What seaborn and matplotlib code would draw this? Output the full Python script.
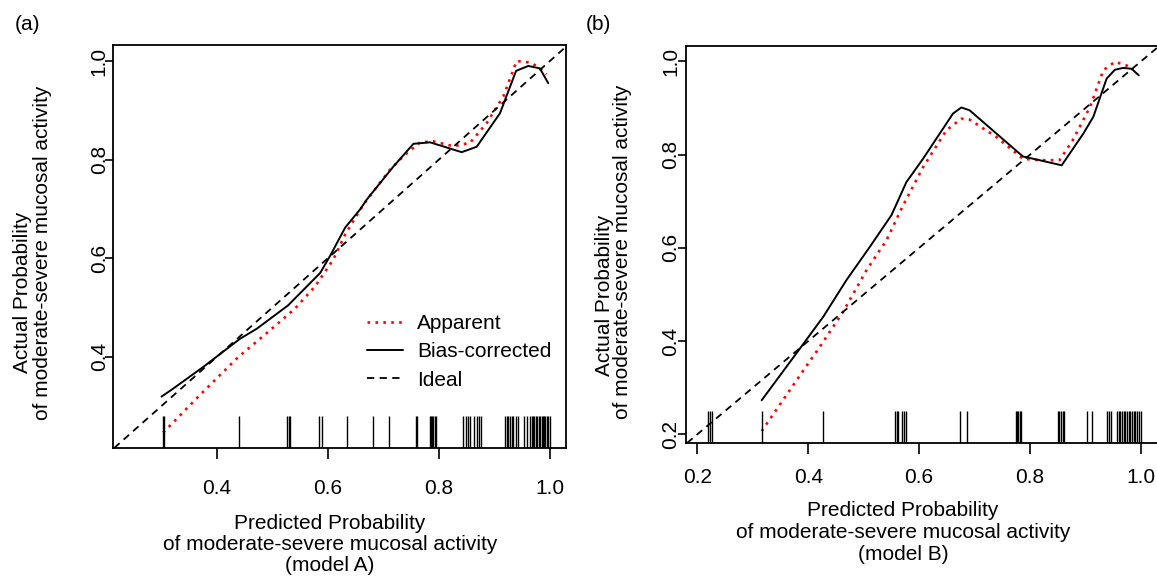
import matplotlib
matplotlib.use("Agg")
import matplotlib.pyplot as plt
import seaborn as sns

# %% data (model A = left, model B = right)
app_a_x = [0.303, 0.369, 0.438, 0.495, 0.540, 0.577, 0.610, 0.631, 0.664, 0.712, 0.739,
           0.766, 0.790, 0.826, 0.856, 0.886, 0.916, 0.940, 0.964, 0.981, 0.994]
app_a_y = [0.246, 0.322, 0.399, 0.453, 0.497, 0.543, 0.598, 0.648, 0.709, 0.780, 0.810,
           0.835, 0.837, 0.827, 0.834, 0.874, 0.928, 1.000, 0.997, 0.987, 0.973]
bias_a_x = [0.300, 0.317, 0.375, 0.441, 0.472, 0.528, 0.586, 0.604, 0.631, 0.658, 0.670,
            0.718, 0.754, 0.784, 0.841, 0.868, 0.910, 0.939, 0.961, 0.982, 0.997]
bias_a_y = [0.319, 0.332, 0.379, 0.436, 0.457, 0.504, 0.570, 0.605, 0.662, 0.699, 0.719,
            0.786, 0.832, 0.835, 0.815, 0.826, 0.894, 0.980, 0.990, 0.985, 0.955]
rug_a = [0.302, 0.304, 0.440, 0.527, 0.530, 0.532, 0.584, 0.590, 0.634, 0.681, 0.710,
         0.759, 0.761, 0.783, 0.786, 0.788, 0.790, 0.792, 0.795, 0.844, 0.848, 0.852,
         0.856, 0.864, 0.868, 0.872, 0.876, 0.919, 0.922, 0.925, 0.928, 0.931, 0.934,
         0.938, 0.942, 0.953, 0.958, 0.964, 0.967, 0.970, 0.972, 0.975, 0.977, 0.980,
         0.982, 0.985, 0.987, 0.990, 0.992, 0.995, 0.997, 1.000]

app_b_x = [0.316, 0.379, 0.421, 0.463, 0.505, 0.541, 0.571, 0.607, 0.649, 0.676, 0.691,
           0.739, 0.787, 0.817, 0.853, 0.877, 0.908, 0.932, 0.953, 0.974, 0.986]
app_b_y = [0.207, 0.316, 0.388, 0.463, 0.552, 0.616, 0.691, 0.773, 0.852, 0.877, 0.875,
           0.838, 0.791, 0.788, 0.788, 0.831, 0.902, 0.981, 0.999, 0.991, 0.982]
bias_b_x = [0.316, 0.385, 0.427, 0.469, 0.511, 0.550, 0.577, 0.607, 0.661, 0.676, 0.691,
            0.787, 0.817, 0.857, 0.896, 0.914, 0.938, 0.953, 0.968, 0.983, 0.996]
bias_b_y = [0.273, 0.384, 0.452, 0.531, 0.602, 0.670, 0.741, 0.791, 0.888, 0.901, 0.895,
            0.796, 0.788, 0.777, 0.845, 0.881, 0.963, 0.982, 0.986, 0.984, 0.970]
rug_b = [0.220, 0.223, 0.227, 0.316, 0.426, 0.557, 0.560, 0.562, 0.569, 0.573, 0.576,
         0.673, 0.687, 0.774, 0.776, 0.779, 0.781, 0.784, 0.850, 0.853, 0.856, 0.859,
         0.861, 0.902, 0.911, 0.939, 0.942, 0.945, 0.957, 0.960, 0.963, 0.966, 0.969,
         0.972, 0.975, 0.978, 0.981, 0.984, 0.987, 0.990, 0.993, 0.996, 1.000]

xticks_a = [0.4, 0.6, 0.8, 1.0]
yticks_a = [0.4, 0.6, 0.8, 1.0]
xticks_b = [0.2, 0.4, 0.6, 0.8, 1.0]
yticks_b = [0.2, 0.4, 0.6, 0.8, 1.0]

xlabel_a = "Predicted Probability\nof moderate-severe mucosal activity\n(model A)"
xlabel_b = "Predicted Probability\nof moderate-severe mucosal activity\n(model B)"
ylabel_1 = "Actual Probability"
ylabel_2 = "of moderate-severe mucosal activity"

# %%
sns.set_style("white")
plt.rcParams["font.family"] = ["Liberation Sans", "DejaVu Sans"]
plt.rcParams["font.size"] = 15
for k in ["text.color", "axes.labelcolor", "xtick.color", "ytick.color"]:
    plt.rcParams[k] = "black"

fig = plt.figure(figsize=(11.57, 5.77), dpi=100)
ax_a = fig.add_axes([0.0977, 0.2236, 0.3915, 0.6984])
ax_b = fig.add_axes([0.5929, 0.2322, 0.4080, 0.6880])


def draw_panel(ax, app_x, app_y, bias_x, bias_y, rug, legend):
    sns.lineplot(x=app_x, y=app_y, ax=ax, sort=False, estimator=None, color="red",
                 lw=1.9, linestyle=(0, (1, 2)), label="Apparent" if legend else None)
    sns.lineplot(x=bias_x, y=bias_y, ax=ax, sort=False, estimator=None, color="black",
                 lw=1.4, label="Bias-corrected" if legend else None)
    ax.axline((0, 0), slope=1, color="black", lw=1.3, linestyle=(0, (4, 3)),
              label="Ideal" if legend else None)
    sns.rugplot(x=rug, ax=ax, height=0.08, color="black", lw=1.5, expand_margins=False)
    for sp in ax.spines.values():
        sp.set_color("black")
        sp.set_linewidth(1.3)


draw_panel(ax_a, app_a_x, app_a_y, bias_a_x, bias_a_y, rug_a, True)
draw_panel(ax_b, app_b_x, app_b_y, bias_b_x, bias_b_y, rug_b, False)

ax_a.set_xlim(0.2126, 1.029)
ax_a.set_ylim(0.2147, 1.0325)
ax_b.set_xlim(0.1796, 1.0307)
ax_b.set_ylim(0.1814, 1.0328)

for ax, xt, yt in [(ax_a, xticks_a, yticks_a), (ax_b, xticks_b, yticks_b)]:
    ax.set_xticks(xt)
    ax.set_xticklabels([f"{v:.1f}" for v in xt])
    ax.set_yticks(yt)
    ax.set_yticklabels([f"{v:.1f}" for v in yt], rotation=90, va="center")
    ax.tick_params(axis="x", bottom=True, length=8, width=1.2, color="black")
    ax.tick_params(axis="y", left=True, length=6, width=1.2, color="black")

ax_a.tick_params(axis="x", pad=14)
ax_b.tick_params(axis="x", pad=10)
ax_a.tick_params(axis="y", pad=-3)
ax_b.tick_params(axis="y", pad=-2)

ax_a.set_xlabel(xlabel_a, linespacing=1.15, va="top")
ax_a.xaxis.set_label_coords(0.479, -0.163)
ax_b.set_xlabel(xlabel_b, linespacing=1.2, va="top")
ax_b.xaxis.set_label_coords(0.46, -0.146)

fig.text(23 / 1157, 1 - 292 / 577, ylabel_1, rotation=90, ha="center", va="center")
fig.text(43 / 1157, 1 - 253 / 577, ylabel_2, rotation=90, ha="center", va="center")
fig.text(605 / 1157, 1 - 295 / 577, ylabel_1, rotation=90, ha="center", va="center")
fig.text(623 / 1157, 1 - 252 / 577, ylabel_2, rotation=90, ha="center", va="center")

fig.text(0.013, 1 - 25 / 577, "(a)", fontsize=15, va="center")
fig.text(0.506, 1 - 25 / 577, "(b)", fontsize=15, va="center")

ax_a.legend(loc="center left", bbox_to_anchor=(0.56, 0.239), frameon=False,
            handlelength=1.75, handletextpad=0.67, labelspacing=0.45,
            borderpad=0, borderaxespad=0, fontsize=15)

fig.savefig("out.png", dpi=100)
